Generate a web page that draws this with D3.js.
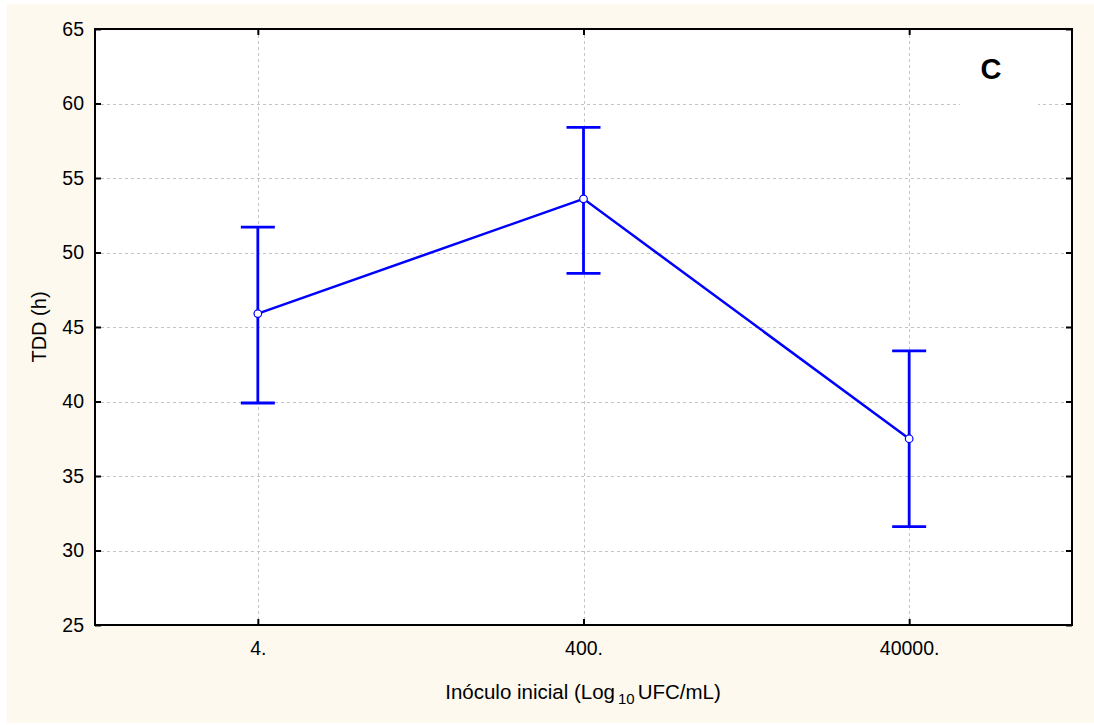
<!DOCTYPE html>
<html>
<head>
<meta charset="utf-8">
<script src="https://cdn.jsdelivr.net/npm/d3@7"></script>
<style>
  html, body { margin: 0; padding: 0; background: #ffffff; }
  svg { display: block; font-family: "Liberation Sans", Arial, sans-serif; }
</style>
</head>
<body>
<svg id="chart" width="1094" height="725"></svg>
<script>
// Inoculum levels and mean TDD with interval bounds
const categories = ["4.", "400.", "40000."];
const means = [45.9, 53.6, 37.5];
const upper = [51.7, 58.4, 43.4];
const lower = [39.9, 48.6, 31.6];
const yTicks = [25, 30, 35, 40, 45, 50, 55, 60, 65];

const data = categories.map((c, i) => ({ c, m: means[i], hi: upper[i], lo: lower[i] }));

const W = 1094, H = 725;
const plot = { left: 95, right: 1072, top: 29, bottom: 625 };
const blue = "#0000ff";

const svg = d3.select("#chart");

// page background
svg.append("rect").attr("x", 7).attr("y", 4).attr("width", W - 7).attr("height", 719)
  .attr("fill", "#fdf9ef");

const x = d3.scalePoint().domain(categories).range([plot.left, plot.right]).padding(0.5);
const y = d3.scaleLinear().domain([25, 65]).range([plot.bottom, plot.top]);

// plot area
svg.append("rect").attr("x", plot.left).attr("y", plot.top)
  .attr("width", plot.right - plot.left).attr("height", plot.bottom - plot.top)
  .attr("fill", "#ffffff");

// grid
const grid = svg.append("g").attr("stroke", "#c4c4c4").attr("stroke-width", 1)
  .attr("stroke-dasharray", "3,3").attr("fill", "none");
grid.selectAll("line.h").data(yTicks.filter(t => t > 25 && t < 65)).join("line")
  .attr("class", "h")
  .attr("x1", plot.left).attr("x2", plot.right)
  .attr("y1", d => Math.round(y(d)) + 0.5).attr("y2", d => Math.round(y(d)) + 0.5);
grid.selectAll("line.v").data(categories).join("line")
  .attr("class", "v")
  .attr("x1", d => Math.round(x(d)) + 0.5).attr("x2", d => Math.round(x(d)) + 0.5)
  .attr("y1", plot.top).attr("y2", plot.bottom);

// panel letter with white backing
svg.append("rect").attr("x", 960).attr("y", 38).attr("width", 78).attr("height", 67)
  .attr("fill", "#ffffff");
svg.append("text").attr("x", 991).attr("y", 79).attr("text-anchor", "middle")
  .attr("font-size", 29).attr("font-weight", "bold").attr("fill", "#000").text("C");

// frame and inward ticks via axes
const tickLen = 6;
const axL = d3.axisLeft(y).tickValues(yTicks).tickSizeInner(-tickLen).tickSizeOuter(0).tickPadding(11)
  .tickFormat(d3.format("d"));
const axR = d3.axisRight(y).tickValues(yTicks).tickSizeInner(-tickLen).tickSizeOuter(0).tickFormat("");
const axB = d3.axisBottom(x).tickSizeInner(-tickLen).tickSizeOuter(0).tickPadding(16);
const axT = d3.axisTop(x).tickSizeInner(-tickLen).tickSizeOuter(0).tickFormat("");

function style(g) {
  g.select(".domain").remove();
  g.attr("font-size", 19.5).attr("font-family", "Liberation Sans, Arial, sans-serif");
  g.selectAll(".tick line").attr("stroke", "#000").attr("stroke-width", 2);
  g.selectAll(".tick text").attr("fill", "#000");
}
svg.append("g").attr("transform", `translate(${plot.left},0)`).call(axL).call(style);
svg.append("g").attr("transform", `translate(${plot.right},0)`).call(axR).call(style);
svg.append("g").attr("transform", `translate(0,${plot.bottom})`).call(axB).call(style);
svg.append("g").attr("transform", `translate(0,${plot.top})`).call(axT).call(style);

svg.append("rect").attr("x", plot.left).attr("y", plot.top)
  .attr("width", plot.right - plot.left).attr("height", plot.bottom - plot.top)
  .attr("fill", "none").attr("stroke", "#000").attr("stroke-width", 2);

// mean line
svg.append("path").datum(data)
  .attr("d", d3.line().x(d => x(d.c)).y(d => y(d.m)))
  .attr("fill", "none").attr("stroke", blue).attr("stroke-width", 2.5);

// whiskers
const cap = 17;
const eb = svg.append("g").attr("stroke", blue).attr("stroke-width", 2.8).attr("fill", "none");
eb.selectAll("line.stem").data(data).join("line").attr("class", "stem")
  .attr("x1", d => x(d.c)).attr("x2", d => x(d.c))
  .attr("y1", d => y(d.lo)).attr("y2", d => y(d.hi));
eb.selectAll("line.capH").data(data).join("line").attr("class", "capH")
  .attr("x1", d => x(d.c) - cap).attr("x2", d => x(d.c) + cap)
  .attr("y1", d => y(d.hi)).attr("y2", d => y(d.hi));
eb.selectAll("line.capL").data(data).join("line").attr("class", "capL")
  .attr("x1", d => x(d.c) - cap).attr("x2", d => x(d.c) + cap)
  .attr("y1", d => y(d.lo)).attr("y2", d => y(d.lo));

// mean markers
svg.selectAll("circle.m").data(data).join("circle").attr("class", "m")
  .attr("cx", d => x(d.c)).attr("cy", d => y(d.m)).attr("r", 3.8)
  .attr("fill", "#ffffff").attr("stroke", blue).attr("stroke-width", 1.2);

// axis titles
const xt = svg.append("text").attr("x", 583).attr("y", 699).attr("text-anchor", "middle")
  .attr("font-size", 20.5).attr("fill", "#000");
xt.append("tspan").text("Inóculo inicial (Log");
xt.append("tspan").attr("font-size", 15).attr("dy", 5).attr("dx", 3).text("10");
xt.append("tspan").attr("dy", -5).attr("dx", 3).text("UFC/mL)");

svg.append("text").attr("transform", `translate(46,${(plot.top + plot.bottom) / 2}) rotate(-90)`)
  .attr("text-anchor", "middle").attr("font-size", 20).attr("fill", "#000").text("TDD (h)");
</script>
</body>
</html>
